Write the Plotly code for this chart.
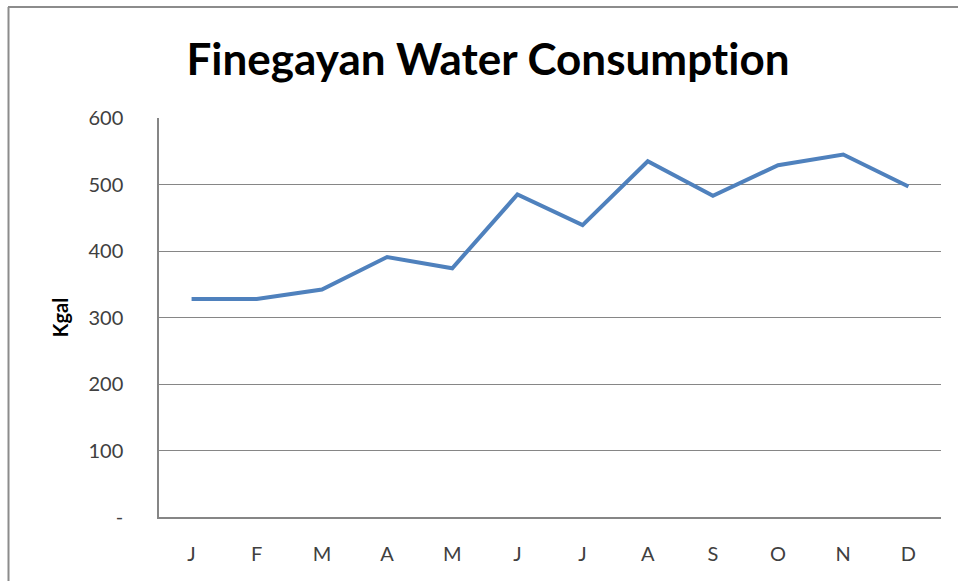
import plotly.graph_objects as go

months = ["J", "F", "M", "A", "M", "J", "J", "A", "S", "O", "N", "D"]
kgal = [328, 328, 342, 391, 374, 485, 439, 535, 483, 529, 545, 497]
y_tick_vals = [0, 100, 200, 300, 400, 500, 600]
y_tick_text = ["-", "100", "200", "300", "400", "500", "600"]

x_idx = list(range(len(months)))

fig = go.Figure()
fig.add_trace(go.Scatter(
    x=x_idx, y=kgal, mode="lines",
    line=dict(color="#4F81BD", width=4),
    hoverinfo="skip", showlegend=False,
))

W, H = 958, 581
ml, mr, mt, mb = 159, 17, 118, 64
pw, ph = W - ml - mr, H - mt - mb

def px_x(p):
    return (p - ml) / pw

def px_y(p):
    return 1 - (p - mt) / ph

FONT = "Lato, Open Sans, sans-serif"

fig.update_layout(
    width=W, height=H,
    margin=dict(l=ml, r=mr, t=mt, b=mb),
    paper_bgcolor="white", plot_bgcolor="white",
    title=dict(text="<b>Finegayan Water Consumption</b>", x=488 / W, xanchor="center",
               y=1 - 60 / H, yanchor="middle",
               font=dict(family=FONT, size=44, color="#000000")),
    xaxis=dict(
        range=[-0.5, 11.5], tickmode="array", tickvals=x_idx, ticktext=months,
        showgrid=False, zeroline=False, showline=True, linecolor="#868686", linewidth=1.5,
        ticks="", tickfont=dict(family=FONT, size=20, color="#404040"),
        ticklabelstandoff=18, fixedrange=True,
    ),
    yaxis=dict(
        range=[0, 600], tickmode="array", tickvals=y_tick_vals, ticktext=y_tick_text,
        showgrid=True, gridcolor="#868686", gridwidth=1, zeroline=False,
        showline=True, linecolor="#868686", linewidth=1.5, ticks="",
        tickfont=dict(family=FONT, size=20, color="#404040"),
        ticklabelstandoff=30,
        title=dict(text="<b>Kgal</b>", standoff=14,
                   font=dict(family=FONT, size=20, color="#000000")),
        fixedrange=True,
    ),
    shapes=[
        dict(type="line", xref="paper", yref="paper", x0=px_x(8), x1=px_x(W), y0=px_y(7), y1=px_y(7),
             line=dict(color="#8c8c8c", width=2)),
        dict(type="line", xref="paper", yref="paper", x0=px_x(8.5), x1=px_x(8.5), y0=px_y(7), y1=px_y(H),
             line=dict(color="#8c8c8c", width=2)),
    ],
)

fig.write_html(
    "out.html",
    config={"displayModeBar": False},
    post_script=(
        "document.body.style.margin='0';document.body.style.overflow='hidden';"
        "var s=document.createElement('style');"
        "s.textContent='svg text{font-variant-ligatures:none !important;font-feature-settings:\"liga\" 0,\"clig\" 0 !important;}';"
        "document.head.appendChild(s);"
    ),
)
